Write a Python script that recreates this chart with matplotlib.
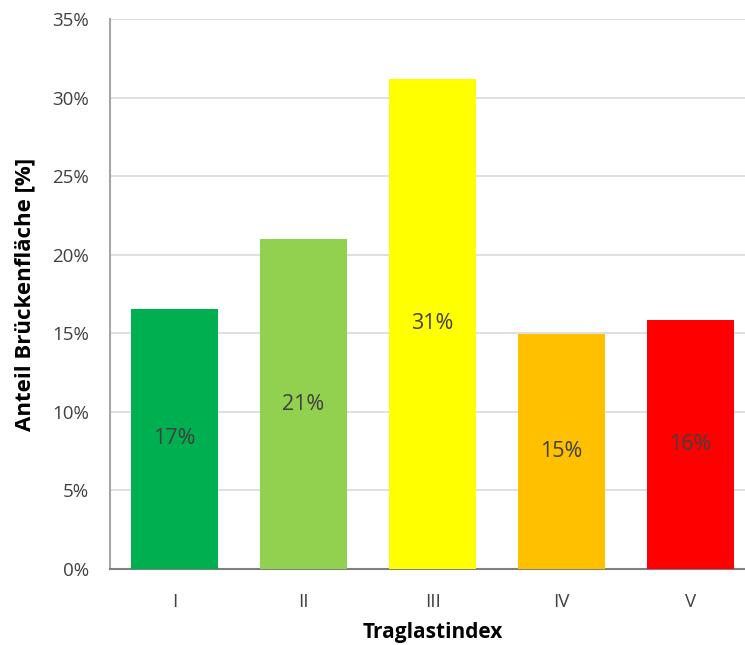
import numpy as np
import matplotlib.pyplot as plt

# Anteil der Brückenfläche je Traglastindex
klassen = ['I', 'II', 'III', 'IV', 'V']
anteil = [16.55, 21.0, 31.2, 14.95, 15.85]
farben = ['#00B050', '#92D050', '#FFFF00', '#FFC000', '#FF0000']

plt.rcParams['font.family'] = ['Open Sans', 'DejaVu Sans']

fig = plt.figure(figsize=(7.45, 6.45), dpi=100)
ax = fig.add_axes([0.1477, 0.1178, 0.8658, 0.8527])

x = np.arange(len(klassen))
ax.bar(x, anteil, width=0.67, color=farben, zorder=3)

for xi, v in zip(x, anteil):
    ax.text(xi, v / 2, '%d%%' % int(round(v)), ha='center', va='center',
            fontsize=15.5, color='#404040', zorder=4)

ax.set_xlim(-0.5, len(klassen) - 0.5)
ax.set_ylim(0, 35)
ax.set_yticks(np.arange(0, 36, 5))
ax.set_yticklabels(['%d%%' % t for t in range(0, 36, 5)])
ax.set_xticks(x)
ax.set_xticklabels(klassen)

ax.grid(axis='y', color='#D9D9D9', linewidth=1.2, zorder=0)
ax.tick_params(axis='both', length=0, labelsize=13.5, labelcolor='#404040')
ax.tick_params(axis='y', pad=15)
ax.tick_params(axis='x', pad=17)

for s in ['top', 'right']:
    ax.spines[s].set_visible(False)
ax.spines['left'].set_color('#A6A6A6')
ax.spines['left'].set_linewidth(1.5)
ax.spines['bottom'].set_color('#808080')
ax.spines['bottom'].set_linewidth(1.5)

ax.set_xlabel('Traglastindex', fontsize=15, fontweight='bold', color='#000000', labelpad=8)
ax.set_ylabel('Anteil Brückenfläche [%]', fontsize=16, fontweight='bold', color='#000000', labelpad=12)

fig.savefig('out.png', dpi=100)
